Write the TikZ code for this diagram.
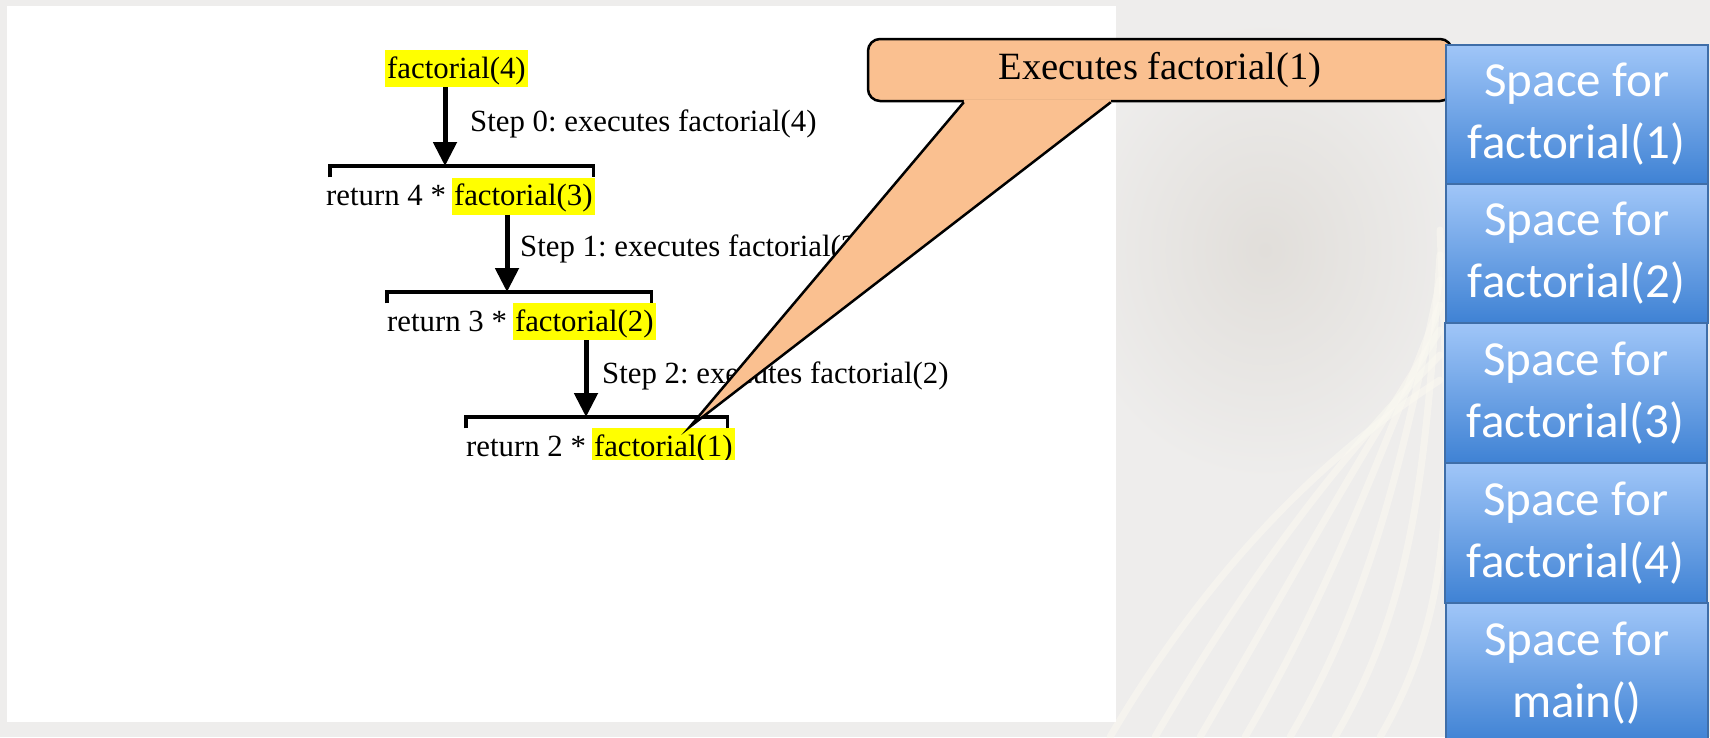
\documentclass[tikz,border=0pt]{standalone}
\usepackage{fontspec}
\setmainfont{Liberation Serif}
\newfontfamily\boxfont{Carlito}
\usetikzlibrary{arrows.meta}
\frenchspacing
\definecolor{bgtone}{HTML}{EEEDEC}
\definecolor{bgdark}{HTML}{E1DEDA}
\definecolor{bgstreak}{HTML}{FBF9F1}
\definecolor{callfill}{HTML}{FAC090}
\definecolor{stacktop}{HTML}{A0C6F8}
\definecolor{stackbot}{HTML}{3F82D4}
\definecolor{stackedge}{HTML}{3F6EA8}
\definecolor{hlyellow}{HTML}{FFFF00}

\begin{document}
\begin{tikzpicture}[x=1pt,y=-1pt,
  code/.style={inner sep=0pt, anchor=base west, font=\fontsize{30.8}{37}\selectfont},
  hl/.style={code, fill=hlyellow, inner xsep=2pt, text height=28pt, text depth=9pt},
  brkbox/.style={inner sep=0pt, minimum height=11pt, anchor=north west},
  brk/.style={line width=3.5pt},
  arr/.style={line width=5pt, -{Triangle[width=23pt,length=24pt]}},
  calloutbox/.style={draw=black, line width=2.5pt, fill=callfill, rounded corners=12pt,
    minimum width=584pt, minimum height=62pt, inner sep=0pt,
    font=\fontsize{38.6}{44}\selectfont},
  stackbox/.style={anchor=north west, minimum width=262pt, inner sep=0pt,
    top color=stacktop, bottom color=stackbot, draw=stackedge, line width=1.5pt,
    text=white, align=center, font=\boxfont\fontsize{49}{62}\selectfont}
]
\useasboundingbox (0,0) rectangle (1710,737);

% slide background: pale grey with a faint darker swirl area and soft streaks
\fill[bgtone] (0,0) rectangle (1710,737);
\shade[inner color=bgdark, outer color=bgtone] (1265,250) ellipse [x radius=200pt, y radius=230pt];
\foreach \k in {0,...,6}
  \draw[bgstreak, opacity=0.55, line width=7pt, line cap=round]
    (1110+45*\k,737) .. controls (1190+45*\k,600) and (1300+25*\k,470) .. (1440,380-25*\k);

% white sheet holding the call trace
\fill[white] (7,6) rectangle (1116,722);

% call trace
\node[hl] (f4) at (385,78) {factorial(4)};
\node[code] (s0) at (470,131) {Step 0: executes factorial(4)};

\node[brkbox, minimum width=263pt] (b1) at (330,166) {};
\node[code] (r4) at (326,205.5) {return 4 *};
\node[hl] (f3) at ([xshift=5.7pt]r4.base east) {factorial(3)};
\node[code] (s1) at (520,256) {Step 1: executes factorial(3)};

\node[brkbox, minimum width=264pt] (b2) at (387,292) {};
\node[code] (r3) at (387,331) {return 3 *};
\node[hl] (f2) at ([xshift=5.7pt]r3.base east) {factorial(2)};
\node[code] (s2) at (602,383) {Step 2: executes factorial(2)};

\node[brkbox, minimum width=261pt] (b3) at (466,417) {};
\begin{scope}
  \clip (0,0) rectangle (1116,459);
  \node[code] (r2) at (466,456) {return 2 *};
  \node[hl] (f1) at ([xshift=5.7pt]r2.base east) {factorial(1)};
\end{scope}

\foreach \b in {b1,b2,b3}
  \draw[brk] (\b.south west) |- (\b.north east) -- (\b.south east);

\draw[arr] ([xshift=115pt]b1.north west |- f4.south) -- ([xshift=115pt]b1.north west);
\draw[arr] ([xshift=120pt]b2.north west |- f3.south) -- ([xshift=120pt]b2.north west);
\draw[arr] ([xshift=120pt]b3.north west |- f2.south) -- ([xshift=120pt]b3.north west);

% callout pointing at factorial(1)
\node[calloutbox] (callout) at (1160,70) {Executes factorial(1)};
\coordinate (tip) at ([xshift=98pt,yshift=1pt]f1.north west);
\coordinate (wl) at ([xshift=97pt]callout.south west);
\coordinate (wr) at ([xshift=244pt]callout.south west);
\fill[callfill] ([yshift=3pt]wl) -- ([yshift=3pt]wr) -- (wr) -- (tip) -- (wl) -- cycle;
\draw[line width=2.5pt, line join=miter] (wl) -- (tip) -- (wr);

% stack frames
\node[stackbox, minimum height=139pt] (st1) at (1445,44) {Space for\\factorial(1)};
\node[stackbox, minimum height=139pt] (st2) at (1445,183) {Space for\\factorial(2)};
\node[stackbox, minimum height=140pt] (st3) at (1444,322) {Space for\\factorial(3)};
\node[stackbox, minimum height=140pt] (st4) at (1444,462) {Space for\\factorial(4)};
\node[stackbox, minimum height=140pt] (st5) at (1445,602) {Space for\\main()};
\end{tikzpicture}
\end{document}
